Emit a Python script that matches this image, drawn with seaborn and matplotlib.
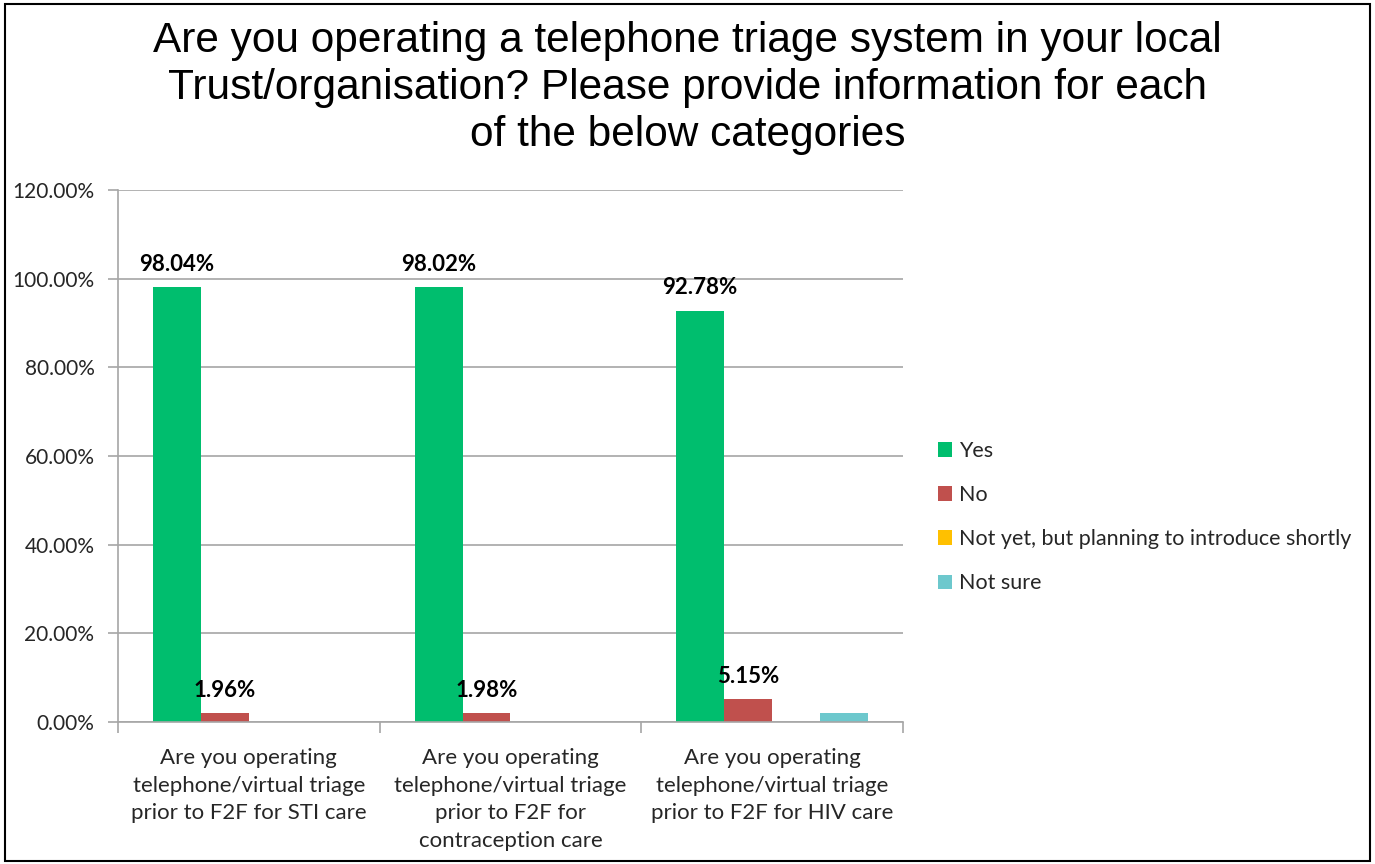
import matplotlib
matplotlib.use("Agg")
import matplotlib.pyplot as plt
import seaborn as sns
import pandas as pd
from matplotlib.patches import Rectangle
from matplotlib.ticker import FuncFormatter, FixedLocator

categories = [
    "Are you operating\ntelephone/virtual triage\nprior to F2F for STI care",
    "Are you operating\ntelephone/virtual triage\nprior to F2F for\ncontraception care",
    "Are you operating\ntelephone/virtual triage\nprior to F2F for HIV care",
]
series = ["Yes", "No", "Not yet, but planning to introduce shortly", "Not sure"]
yes_vals = [98.04, 98.02, 92.78]
no_vals = [1.96, 1.98, 5.15]
notyet_vals = [0.0, 0.0, 0.0]
notsure_vals = [0.0, 0.0, 2.06]
labelled = {"Yes": True, "No": True,
            "Not yet, but planning to introduce shortly": False, "Not sure": False}
colors = ["#00BE6E", "#C0504D", "#FFC000", "#6DC8CD"]
title = ("Are you operating a telephone triage system in your local\n"
         "Trust/organisation? Please provide information for each\n"
         "of the below categories")

rows = []
for s, vals in zip(series, [yes_vals, no_vals, notyet_vals, notsure_vals]):
    for c, v in zip(categories, vals):
        rows.append({"cat": c, "series": s, "value": v})
df = pd.DataFrame(rows)

sns.set_theme(style="white")
plt.rcParams["font.family"] = ["Lato", "DejaVu Sans"]

fig = plt.figure(figsize=(13.75, 8.64), dpi=100)
ax = fig.add_axes([118/1375, 1-722/864, (903-118)/1375, (722-190)/864])

sns.barplot(data=df, x="cat", y="value", hue="series", hue_order=series,
            order=categories, palette=colors, width=0.733, ax=ax,
            saturation=1, errorbar=None, linewidth=0)

ax.set_ylim(0, 120)
ax.set_xlim(-0.5, 2.5)
ax.yaxis.set_major_locator(FixedLocator([0, 20, 40, 60, 80, 100, 120]))
ax.yaxis.set_major_formatter(FuncFormatter(lambda v, p: f"{v:.2f}%"))
ax.grid(axis="y", color="#A6A6A6", linewidth=1.2)
ax.set_axisbelow(True)
for sp in ["top", "right"]:
    ax.spines[sp].set_visible(False)
for sp in ["left", "bottom"]:
    ax.spines[sp].set_color("#A6A6A6")
    ax.spines[sp].set_linewidth(1.2)
ax.tick_params(axis="y", which="major", left=True, length=7, color="#A6A6A6",
               width=1.2, labelsize=15, labelcolor="#262626", pad=10)
ax.set_xticks([0, 1, 2])
ax.set_xticklabels(categories, fontsize=16, color="#262626", linespacing=1.47, va="top")
ax.tick_params(axis="x", which="major", bottom=False, pad=13)
ax.set_xticks([-0.5, 0.5, 1.5, 2.5], minor=True)
ax.tick_params(axis="x", which="minor", bottom=True, length=8, color="#A6A6A6", width=1.2)
ax.set_xlabel("")
ax.set_ylabel("")

for cont, s in zip(ax.containers, series):
    if labelled[s]:
        ax.bar_label(cont, labels=[f"{v:.2f}%" for v in cont.datavalues],
                     padding=9, fontsize=16, fontweight="bold", color="black")

handles, labels = ax.get_legend_handles_labels()
ax.legend(handles, labels, loc="center left", bbox_to_anchor=(1.02, 0.385),
          frameon=False, fontsize=15.5, handlelength=0.65, handleheight=0.65,
          handletextpad=0.3, labelspacing=1.12, labelcolor="#262626")

fig.text(0.5, 1-88/864, title, ha="center", va="center", fontsize=30.5,
         color="black", family=["Liberation Sans", "DejaVu Sans"], linespacing=1.21)

fig.patches.append(Rectangle((5/1375, 3/864), 1365/1375, 857/864, fill=False,
                             edgecolor="black", linewidth=1.5,
                             transform=fig.transFigure, figure=fig))

fig.savefig("out.png", dpi=100)
